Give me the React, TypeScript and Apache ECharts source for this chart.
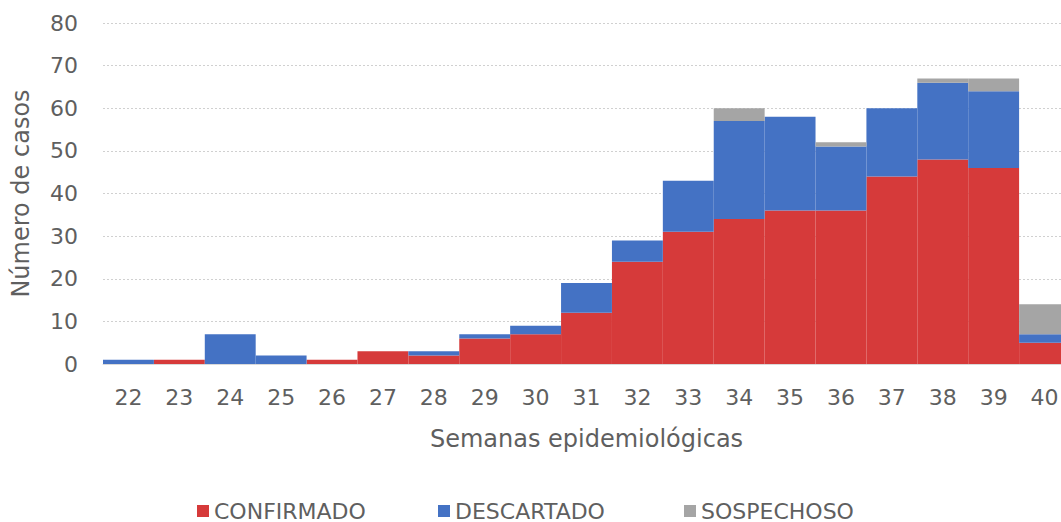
import React, { useEffect, useRef } from "react";
import * as echarts from "echarts";

const weeks = ["22","23","24","25","26","27","28","29","30","31","32","33","34","35","36","37","38","39","40"];
const confirmado = [0, 1, 0, 0, 1, 3, 2, 6, 7, 12, 24, 31, 34, 36, 36, 44, 48, 46, 5];
const descartado = [1, 0, 7, 2, 0, 0, 1, 1, 2, 7, 5, 12, 23, 22, 15, 16, 18, 18, 2];
const sospechoso = [0, 0, 0, 0, 0, 0, 0, 0, 0, 0, 0, 0, 3, 0, 1, 0, 1, 3, 7];
const seriesNames = ["CONFIRMADO", "DESCARTADO", "SOSPECHOSO"];

const FONT = "'DejaVu Sans ExtraLight', 'DejaVu Sans', sans-serif";
const TXT = "#5f5f5f";

export default function App() {
  const ref = useRef<HTMLDivElement>(null);
  useEffect(() => {
    const chart = echarts.init(ref.current!, null, { renderer: "svg" });
    const mk = (name: string, data: number[], color: string) => ({
      name,
      type: "bar",
      stack: "total",
      data,
      barCategoryGap: "0%",
      itemStyle: { color },
      emphasis: { disabled: true },
    });
    const legendLefts = [197, 438, 684];
    chart.setOption({
      animation: false,
      textStyle: { fontFamily: FONT },
      grid: { left: 103, right: -9, top: 23, bottom: 158, containLabel: false, outerBoundsMode: "none" },
      legend: seriesNames.map((n, i) => ({
        top: 499,
        left: legendLefts[i],
        padding: 0,
        itemWidth: 12,
        itemHeight: 12,
        itemGap: 0,
        icon: "rect",
        textStyle: { fontFamily: FONT, fontSize: 22, lineHeight: 24, color: TXT },
        data: [n],
      })),
      xAxis: {
        type: "category",
        data: weeks,
        name: "Semanas epidemiológicas",
        nameLocation: "middle",
        nameGap: 63,
        nameTextStyle: { fontFamily: FONT, fontSize: 24, color: TXT },
        axisLine: { show: true, lineStyle: { color: "#d9d9d9" } },
        axisTick: { show: false },
        axisLabel: { fontFamily: FONT, fontSize: 22, color: TXT, margin: 22 },
      },
      yAxis: {
        type: "value",
        min: 0,
        max: 80,
        interval: 10,
        name: "Número de casos",
        nameLocation: "middle",
        nameGap: 70,
        nameTextStyle: { fontFamily: FONT, fontSize: 24, color: TXT },
        axisLine: { show: false },
        axisTick: { show: false },
        axisLabel: { fontFamily: FONT, fontSize: 22, color: TXT, margin: 25 },
        splitLine: { lineStyle: { color: "#d0d0d0", type: [2, 2], width: 1 } },
      },
      series: [
        mk(seriesNames[0], confirmado, "#D63A3A"),
        mk(seriesNames[1], descartado, "#4472C4"),
        mk(seriesNames[2], sospechoso, "#A5A5A5"),
      ],
    });
    return () => chart.dispose();
  }, []);
  return (
    <div
      ref={ref}
      style={{ position: "absolute", left: 0, top: 0, width: 1061, height: 522 }}
    />
  );
}
